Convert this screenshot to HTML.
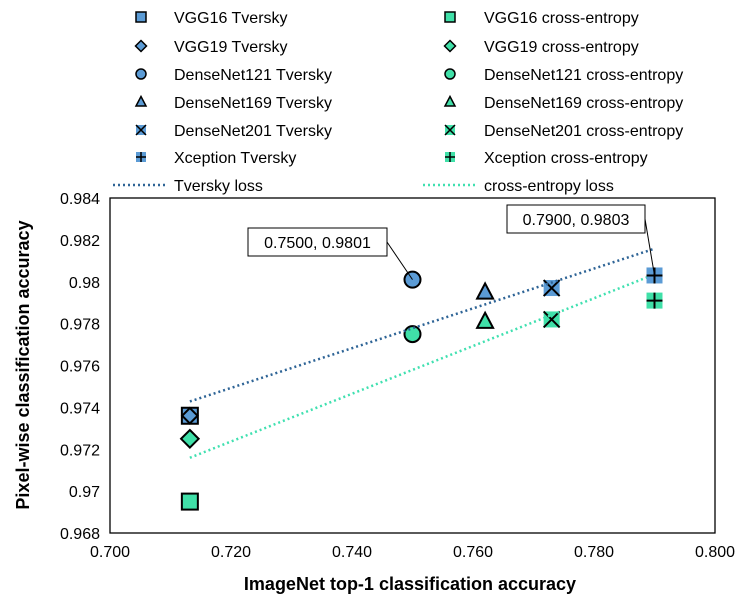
<!DOCTYPE html>
<html><head><meta charset="utf-8"><style>
body{margin:0;background:#fff}
svg text{font-family:"Liberation Sans",sans-serif}
</style></head><body>
<svg id="c" width="752" height="601" xmlns="http://www.w3.org/2000/svg"></svg>
<script>
const models=["VGG16","VGG19","DenseNet121","DenseNet169","DenseNet201","Xception"];
const shapes=["square","diamond","circle","triangle","x","plus"];
const imagenetAcc=[0.7132,0.7132,0.750,0.762,0.773,0.790];
const tverskyAcc=[0.9736,0.9736,0.9801,0.9795,0.9797,0.9803];
const ceAcc=[0.9695,0.9725,0.9775,0.9781,0.9782,0.9791];
const xTicks=[0.700,0.720,0.740,0.760,0.780,0.800];
const yTicks=[0.968,0.97,0.972,0.974,0.976,0.978,0.98,0.982,0.984];
const yTickLabels=["0.968","0.97","0.972","0.974","0.976","0.978","0.98","0.982","0.984"];

const NS="http://www.w3.org/2000/svg",svg=document.getElementById('c');
const L=110,R=715,T=198,B=533;
const xs=v=>L+(v-0.7)/0.1*(R-L), ys=v=>B-(v-0.968)/0.016*(B-T);
function el(t,a,p){const e=document.createElementNS(NS,t);for(const k in a)e.setAttribute(k,a[k]);(p||svg).appendChild(e);return e;}
const BLUE="#5B9BD5",GREEN="#40E0A8",DB="#2E6496",LG="#40E0B0";

const frame=el('rect',{x:L,y:T,width:R-L,height:B-T,fill:'none',stroke:'#000','stroke-width':1.3});



xTicks.forEach(v=>{const t=el('text',{x:xs(v),y:557,'font-size':16,'text-anchor':'middle'});t.textContent=v.toFixed(3);

});
yTicks.forEach((v,i)=>{const t=el('text',{x:100,y:ys(v)+6,'font-size':16,'text-anchor':'end'});t.textContent=yTickLabels[i];

});

const xt=el('text',{x:410,y:590,'font-size':18,'font-weight':'bold','text-anchor':'middle'});xt.textContent="ImageNet top-1 classification accuracy";


const yt=el('text',{x:0,y:0,'font-size':18,'font-weight':'bold','text-anchor':'middle',transform:'translate(29,365) rotate(-90)'});yt.textContent="Pixel-wise classification accuracy";



function marker(shape,cx,cy,fill,s,p,sw){
  const g=el('g',{},p);
  if(shape==='square'){el('rect',{x:cx-s,y:cy-s,width:2*s,height:2*s,fill:fill,stroke:'#000','stroke-width':sw},g);}
  else if(shape==='diamond'){el('polygon',{points:`${cx},${cy-s*1.1} ${cx+s*1.1},${cy} ${cx},${cy+s*1.1} ${cx-s*1.1},${cy}`,fill:fill,stroke:'#000','stroke-width':sw},g);}
  else if(shape==='circle'){el('circle',{cx:cx,cy:cy,r:s,fill:fill,stroke:'#000','stroke-width':sw},g);}
  else if(shape==='triangle'){el('polygon',{points:`${cx},${cy-s*1.1} ${cx+s},${cy+s*0.8} ${cx-s},${cy+s*0.8}`,fill:fill,stroke:'#000','stroke-width':sw},g);}
  else if(shape==='x'){el('rect',{x:cx-s,y:cy-s,width:2*s,height:2*s,fill:fill},g);el('path',{d:`M${cx-s} ${cy-s}L${cx+s} ${cy+s}M${cx+s} ${cy-s}L${cx-s} ${cy+s}`,stroke:'#000','stroke-width':sw},g);}
  else {el('rect',{x:cx-s,y:cy-s,width:2*s,height:2*s,fill:fill},g);el('path',{d:`M${cx-s} ${cy}L${cx+s} ${cy}M${cx} ${cy-s}L${cx} ${cy+s}`,stroke:'#000','stroke-width':sw},g);}
  return g;
}

function trend(ysArr,color,name){
  const n=imagenetAcc.length;let mx=0,my=0;imagenetAcc.forEach((x,i)=>{mx+=x;my+=ysArr[i];});mx/=n;my/=n;
  let sxy=0,sxx=0;imagenetAcc.forEach((x,i)=>{sxy+=(x-mx)*(ysArr[i]-my);sxx+=(x-mx)*(x-mx);});
  const b=sxy/sxx,a=my-b*mx,x0=Math.min(...imagenetAcc),x1=Math.max(...imagenetAcc);
  const l=el('line',{x1:xs(x0),y1:ys(a+b*x0),x2:xs(x1),y2:ys(a+b*x1),stroke:color,'stroke-width':2.5,'stroke-dasharray':'2 3'});
  
  
}

models.forEach((m,i)=>{
  const g=marker(shapes[i],xs(imagenetAcc[i]),ys(ceAcc[i]),GREEN,8,null,2);
  
  
});
trend(ceAcc,LG,'cross-entropy-trendline');
models.forEach((m,i)=>{
  const g=marker(shapes[i],xs(imagenetAcc[i]),ys(tverskyAcc[i]),BLUE,shapes[i]==='diamond'?7:8,null,2);
  
  
});
trend(tverskyAcc,DB,'tversky-trendline');

function label(i,bx,by,w){
  const g=el('g',{});
  
  
  const px=xs(imagenetAcc[i]),py=ys(tverskyAcc[i]);
  el('line',{x1:bx+w,y1:by+14,x2:px,y2:py,stroke:'#000','stroke-width':1},g);
  el('rect',{x:bx,y:by,width:w,height:28,fill:'#fff',stroke:'#000','stroke-width':1},g);
  const t=el('text',{x:bx+w/2,y:by+20,'font-size':16,'text-anchor':'middle'},g);
  t.textContent=imagenetAcc[i].toFixed(4)+", "+tverskyAcc[i].toFixed(4);
}
label(2,248,228,139);
label(5,507,205,138);

const rows=[17,46,74,102,130,157];
models.forEach((m,i)=>{
  [[141,174,BLUE," Tversky"],[450,484,GREEN," cross-entropy"]].forEach(c=>{
    const g=el('g',{});
    
    
    marker(shapes[i],c[0],rows[i],c[2],5,g,1.5);
    const t=el('text',{x:c[1],y:rows[i]+6,'font-size':16},g);t.textContent=m+c[3];
  });
});
[[113,165,DB,174,"Tversky loss"],[423,475,LG,484,"cross-entropy loss"]].forEach(c=>{
  const g=el('g',{});
  
  
  el('line',{x1:c[0],y1:185,x2:c[1],y2:185,stroke:c[2],'stroke-width':2.5,'stroke-dasharray':'2 3'},g);
  const t=el('text',{x:c[3],y:191,'font-size':16},g);t.textContent=c[4];
});
</script>
</body></html>
